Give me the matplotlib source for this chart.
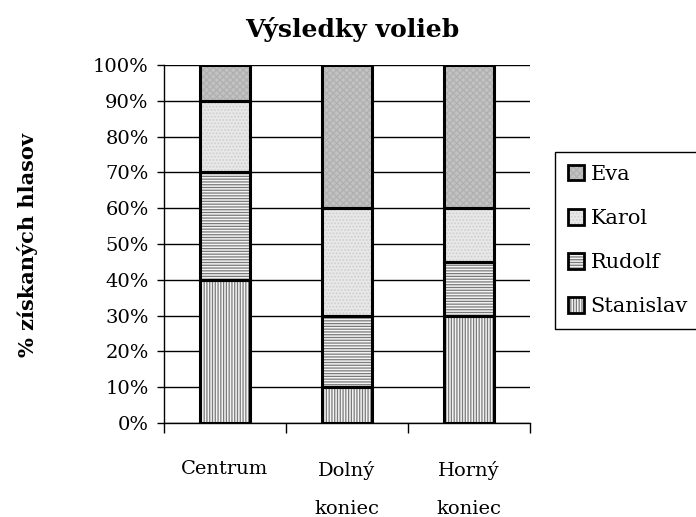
import matplotlib
matplotlib.use('Agg')
import matplotlib.pyplot as plt
from matplotlib.patches import Patch
from matplotlib.legend_handler import HandlerTuple
import numpy as np

plt.rcParams['font.family'] = ['DejaVu Serif']
plt.rcParams['hatch.linewidth'] = 0.9

districts = ['Centrum', 'Dolný\nkoniec', 'Horný\nkoniec']
candidates = ['Stanislav', 'Rudolf', 'Karol', 'Eva']
stanislav = [40, 10, 30]
rudolf = [30, 20, 15]
karol = [20, 30, 15]
eva = [10, 40, 40]
series = [stanislav, rudolf, karol, eva]

faces = ['#f4f4f4', '#f4f4f4', '#e8e8e8', '#c2c2c2']
hatch_cols = ['#7a7a7a', '#7a7a7a', '#cfcfcf', '#b0b0b0']
hatches = ['||||||', '------', '.....', 'xxxxx']

fig = plt.figure(figsize=(6.96, 5.17), dpi=100)
ax = fig.add_axes([164 / 696, 1 - 423 / 517, 366 / 696, 358 / 517])

x = np.arange(len(districts))
width = 0.41
bottom = np.zeros(len(districts))
for vals, fc, hc, h in zip(series, faces, hatch_cols, hatches):
    ax.bar(x, vals, width, bottom=bottom, color=fc, edgecolor=hc,
           hatch=h, linewidth=0, zorder=3)
    ax.bar(x, vals, width, bottom=bottom, fill=False, edgecolor='black',
           linewidth=2.2, zorder=4)
    bottom += vals

ax.set_xlim(-0.5, 2.5)
ax.set_ylim(0, 100)
ax.set_yticks(range(0, 101, 10))
ax.set_yticklabels([f'{v}%' for v in range(0, 101, 10)], fontsize=14)
ax.yaxis.grid(True, color='black', linewidth=1, zorder=0)
ax.set_axisbelow(True)
ax.tick_params(axis='y', direction='out', length=5, width=1, pad=6)

ax.set_xticks([-0.5, 0.5, 1.5, 2.5])
ax.set_xticklabels([])
ax.tick_params(axis='x', which='major', direction='out', length=7, width=1)
ax.set_xticks(x, minor=True)
ax.set_xticklabels(districts, minor=True, fontsize=14, linespacing=2.45, va='top')
ax.tick_params(axis='x', which='minor', length=0, pad=27)

for s in ['top', 'right']:
    ax.spines[s].set_visible(False)
for s in ['left', 'bottom']:
    ax.spines[s].set_linewidth(1)
    ax.spines[s].set_color('black')

fig.text(352 / 696, 1 - 30 / 517, 'Výsledky volieb', ha='center', va='center',
         fontsize=18, fontweight='bold')
fig.text(28 / 696, 1 - 245 / 517, '% získaných hlasov', ha='center', va='center',
         rotation=90, fontsize=15, fontweight='bold')

handles = []
for fc, hc, h in zip(faces, hatch_cols, hatches):
    under = Patch(facecolor=fc, edgecolor=hc, hatch=h, linewidth=0)
    over = Patch(fill=False, edgecolor='black', linewidth=2)
    handles.append((under, over))
leg = fig.legend(handles[::-1], candidates[::-1], loc='upper left',
                 bbox_to_anchor=(555 / 696, 1 - 152 / 517), borderaxespad=0,
                 fontsize=15, handler_map={tuple: HandlerTuple(ndivide=1)},
                 handlelength=0.8, handleheight=0.8, handletextpad=0.3,
                 labelspacing=1.2, borderpad=0.6, fancybox=False,
                 edgecolor='black', framealpha=1)
leg.get_frame().set_linewidth(1)

fig.savefig('out.png', dpi=100)
